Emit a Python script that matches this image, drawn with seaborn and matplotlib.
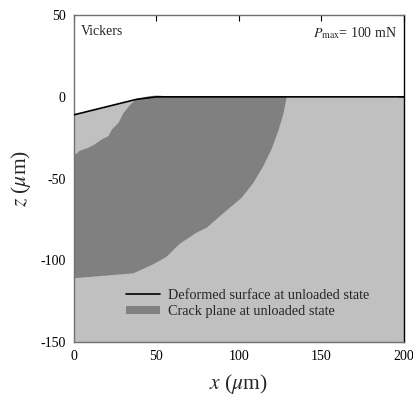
import matplotlib
matplotlib.use("Agg")
import matplotlib.pyplot as plt
import seaborn as sns
import pandas as pd
from matplotlib.lines import Line2D
from matplotlib.patches import Patch

# ---- data ----
surface_x = [0, 38, 50, 200]
surface_z = [-11, -1.5, 0, 0]

crack_x = [38, 45, 50, 55, 60, 129, 126.8, 123.8, 119.8, 114.7, 108.7, 101.6, 96.6,
           88.5, 80.6, 74.5, 70, 64, 56, 48, 36, 0, 0, 3.5, 8, 12, 17, 21, 23, 27, 30, 34]
crack_z = [-1.2, 0.3, 0.8, 0.5, 0, 0, -11, -21, -32, -42.5, -52.7, -61.8, -66,
           -73, -80, -83, -86, -90, -98, -102.5, -108, -111, -36, -33, -31.5, -29.5,
           -26, -24, -20, -16, -10, -5]

x_ticks = [0, 50, 100, 150, 200]
z_ticks = [-150, -100, -50, 0, 50]

sns.set_theme(style="white")
plt.rcParams['font.family'] = ['Liberation Serif', 'DejaVu Serif']
plt.rcParams['mathtext.fontset'] = 'stix'
plt.rcParams['axes.unicode_minus'] = False

fig = plt.figure(figsize=(4.13, 3.99), dpi=100)
ax = fig.add_axes([0.179, 0.143, 0.799, 0.819])

light = '#c0c0c0'
dark = '#808080'

# substrate (below the deformed surface)
ax.fill_between(surface_x, surface_z, -150, color=light, lw=0, zorder=1)
# crack plane
ax.fill(crack_x, crack_z, color=dark, lw=0, zorder=2)

df = pd.DataFrame({'x': surface_x, 'z': surface_z})
sns.lineplot(data=df, x='x', y='z', ax=ax, color='black', lw=1.2, zorder=3,
             sort=False, estimator=None)

ax.set_xlim(0, 200)
ax.set_ylim(-150, 50)
ax.set_xticks(x_ticks)
ax.set_yticks(z_ticks)
ax.tick_params(direction='in', length=4, width=0.8, top=True, right=True,
               labelsize=10, colors='black', pad=6)
for s in ['left', 'bottom', 'top']:
    ax.spines[s].set_color('#707070')
    ax.spines[s].set_linewidth(1.0)
ax.spines['right'].set_color('black')
ax.spines['right'].set_linewidth(1.0)

ax.set_xlabel(r'$x$ ($\mu$m)', fontsize=15.5, labelpad=6)
ax.set_ylabel(r'$z$ ($\mu$m)', fontsize=15.5, labelpad=6)
ax.yaxis.set_label_coords(-0.125, 0.5)

ax.text(4, 44, 'Vickers', fontsize=10, va='top', ha='left')
ax.text(196, 44, r'$P_{\mathrm{max}}$= 100 mN', fontsize=10, va='top', ha='right')

handles = [Line2D([0], [0], color='black', lw=1.2),
           Patch(facecolor=dark, edgecolor='none')]
labels = ['Deformed surface at unloaded state', 'Crack plane at unloaded state']
ax.legend(handles, labels, loc='lower left', bbox_to_anchor=(0.14, 0.055),
          frameon=False, fontsize=10.3, handlelength=2.4, handleheight=0.5,
          labelspacing=0.25, handletextpad=0.55, borderaxespad=0)

fig.savefig('out.png', dpi=100)
